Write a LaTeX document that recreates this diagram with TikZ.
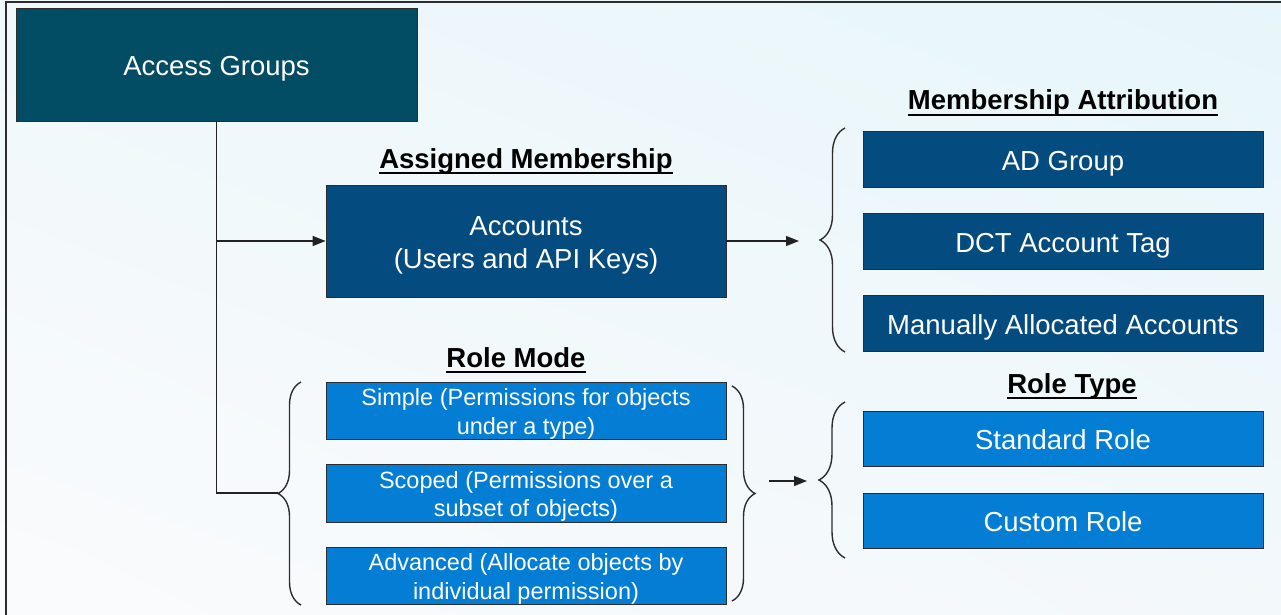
\documentclass[tikz,border=0pt]{standalone}
\usepackage{fontspec}
\setmainfont{Liberation Sans}
\usetikzlibrary{arrows.meta,decorations.pathreplacing,shadings}
\definecolor{agfill}{RGB}{2,77,99}
\definecolor{accfill}{RGB}{4,75,127}
\definecolor{rolefill}{RGB}{4,125,213}
\definecolor{edgec}{RGB}{45,45,45}
\definecolor{linec}{RGB}{34,34,34}
\definecolor{bgul}{RGB}{240,248,251}
\definecolor{bgur}{RGB}{231,246,250}
\definecolor{bgll}{RGB}{250,251,252}
\definecolor{bglr}{RGB}{243,248,251}
% struts that fix the vertical centring of box texts
\newcommand{\bigone}{\rule[-6pt]{0pt}{34pt}}
\newcommand{\bigtop}{\rule{0pt}{28pt}}
\newcommand{\bigbot}{\rule[-6pt]{0pt}{6pt}}
\newcommand{\smltop}{\rule{0pt}{23.5pt}}
\newcommand{\smlbot}{\rule[-5.5pt]{0pt}{5.5pt}}
\begin{document}
\begin{tikzpicture}[x=1pt,y=-1pt,
  box/.style={draw=edgec, line width=0.8pt, text=white, inner sep=0pt, align=center, minimum width=400pt},
  bigtxt/.style={font=\fontsize{27.5}{33}\selectfont},
  smalltxt/.style={font=\fontsize{23.5}{28.5}\selectfont},
  ttl/.style={font=\fontsize{27.5}{33}\selectfont\bfseries, inner sep=0pt, anchor=base, text=black},
  conn/.style={draw=linec, line width=1.4pt},
  arr/.style={conn, -{Triangle[length=13pt,width=10pt]}},
  brc/.style={draw=edgec, line width=1.4pt, decorate, decoration={brace, amplitude=#1}},
  uline/.style={draw=black, line width=1.8pt}
]
\useasboundingbox (0,0) rectangle (1281,615);
\shade[upper left=bgul, upper right=bgur, lower left=bgll, lower right=bglr] (0,0) rectangle (1281,615);
\draw[draw=edgec, line width=1.5pt] (6,615) -- (6,2) -- (1281,2);

% boxes
\node[box, bigtxt, fill=agfill, minimum width=401pt, minimum height=113pt] (ag) at (216.5,64.5) {\bigone Access Groups};
\node[box, bigtxt, fill=accfill, minimum height=112pt] (acc) at (526,241) {\bigtop Accounts\\(Users and API Keys)\bigbot};

\node[box, bigtxt, fill=accfill, minimum height=56pt] (adg) at (1063,159) {\bigone AD Group};
\node[box, bigtxt, fill=accfill, minimum height=56pt] (dct) at (1063,241) {\bigone DCT Account Tag};
\node[box, bigtxt, fill=accfill, minimum height=56pt] (man) at (1063,323) {\bigone Manually Allocated Accounts};

\node[box, smalltxt, fill=rolefill, minimum height=56pt] (simple) at (526,411) {\smltop Simple (Permissions for objects\\under a type)\smlbot};
\node[box, smalltxt, fill=rolefill, minimum height=56pt] (scoped) at (526,493.5) {\smltop Scoped (Permissions over a\\subset of objects)\smlbot};
\node[box, smalltxt, fill=rolefill, minimum height=56pt] (adv) at (526,576) {\smltop Advanced (Allocate objects by\\individual permission)\smlbot};

\node[box, bigtxt, fill=rolefill, minimum height=55pt] (std) at (1063,438.5) {\bigone Standard Role};
\node[box, bigtxt, fill=rolefill, minimum height=55pt] (cust) at (1063,520.5) {\bigone Custom Role};

% titles
\node[ttl] (tam) at (526,168) {Assigned Membership};
\node[ttl] (tma) at (1063,110) {Membership Attribution};
\node[ttl] (trm) at (516,367) {Role Mode};
\node[ttl] (trt) at (1072,393) {Role Type};
\foreach \t in {tam,tma,trm,trt}
  \draw[uline] ([yshift=-5pt]\t.base west) -- ([yshift=-5pt]\t.base east);

% braces
\draw[brc=25] (845,352) -- (845,128);
\draw[brc=23] (301,605) -- (301,382);
\draw[brc=23] (732,386) -- (732,601);
\draw[brc=26] (845,558) -- (845,402);

% connectors
\coordinate (rmtip) at (278,493);
\coordinate (maend) at (799,241);
\coordinate (rtstart) at (769,481);
\coordinate (rtend) at (807,481);
\draw[conn] (ag.south) |- (rmtip);
\draw[arr] (ag.south |- acc.west) -- (acc.west);
\draw[arr] (acc.east) -- (maend);
\draw[arr] (rtstart) -- (rtend);
\end{tikzpicture}
\end{document}
